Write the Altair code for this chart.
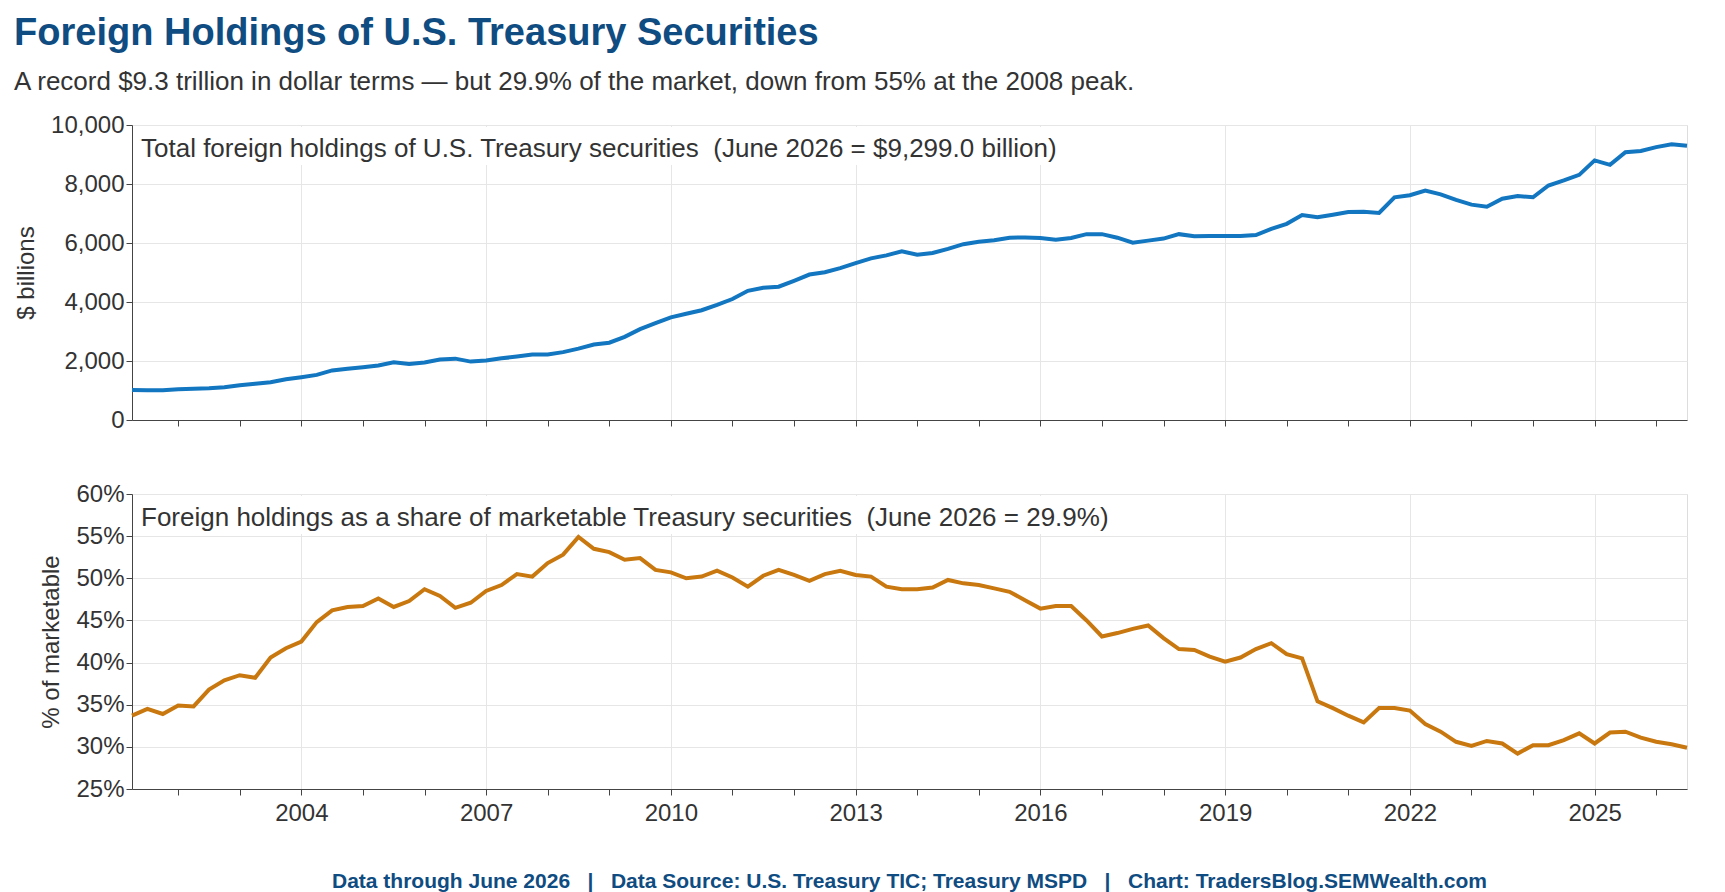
import altair as alt
import pandas as pd

holdings = [1020, 1005, 1010,
    1040, 1060, 1075, 1110,
    1180, 1230, 1280, 1380,
    1450, 1530, 1680, 1740,
    1790, 1850, 1960, 1900,
    1950, 2050, 2080, 1980,
    2020, 2090, 2150, 2220,
    2220, 2300, 2420, 2560,
    2620, 2820, 3080, 3280,
    3480, 3600, 3720, 3900,
    4100, 4380, 4480, 4520,
    4720, 4930, 5010, 5150,
    5320, 5480, 5580, 5720,
    5600, 5660, 5800, 5960,
    6040, 6090, 6180, 6190,
    6170, 6110, 6170, 6300,
    6300, 6180, 6010, 6080,
    6150, 6300, 6230, 6240,
    6240, 6240, 6270, 6480,
    6650, 6950, 6870, 6960,
    7050, 7060, 7020, 7550,
    7620, 7780, 7650, 7460,
    7300, 7230, 7500, 7590,
    7550, 7950, 8120, 8310,
    8800, 8650, 9080, 9120,
    9250, 9350, 9299]

share = [33.7, 34.5, 33.9,
    34.9, 34.8, 36.8, 37.9,
    38.5, 38.2, 40.6, 41.7,
    42.5, 44.8, 46.2, 46.6,
    46.7, 47.6, 46.6, 47.3,
    48.7, 47.9, 46.5, 47.1,
    48.5, 49.2, 50.5, 50.2,
    51.8, 52.8, 54.9, 53.5,
    53.1, 52.2, 52.4, 51.0,
    50.7, 50.0, 50.2, 50.9,
    50.1, 49.0, 50.3, 51.0,
    50.4, 49.7, 50.5, 50.9,
    50.4, 50.2, 49.0, 48.7,
    48.7, 48.9, 49.8, 49.4,
    49.2, 48.8, 48.4, 47.4,
    46.4, 46.7, 46.7, 45.0,
    43.1, 43.5, 44.0, 44.4,
    42.9, 41.6, 41.5, 40.7,
    40.1, 40.6, 41.6, 42.3,
    41.0, 40.5, 35.4, 34.6,
    33.7, 32.9, 34.6, 34.6,
    34.3, 32.7, 31.8, 30.6,
    30.1, 30.7, 30.4, 29.2,
    30.2, 30.2, 30.8, 31.6,
    30.4, 31.7, 31.8, 31.1,
    30.6, 30.3, 29.9]

start = 2001.25
df1 = pd.DataFrame({"t": [start + 0.25 * i for i in range(len(holdings))], "v": holdings})
df2 = pd.DataFrame({"t": [start + 0.25 * i for i in range(len(share))], "v": share})
one = pd.DataFrame({"k": [0]})

NB = "\u00a0"
FONT = "Liberation Sans"
W, H = 1555, 295
years = list(range(2002, 2027))
xdom = [start, 2026.5]

def xaxis(labels):
    return alt.Axis(values=years, format="d", labels=labels,
                    labelExpr="datum.value % 3 == 0 ? datum.value : ''",
                    gridOpacity=alt.ExprRef("datum.value % 3 == 0 ? 1 : 0"),
                    gridColor="#e6e6e6", title=None, tickColor="#444",
                    tickSize=6, domainColor="#444", labelFontSize=24,
                    labelColor="#333", labelFont=FONT, labelPadding=6)

def yaxis(vals, title, expr):
    return alt.Axis(values=vals, title=title, labelExpr=expr, gridColor="#e6e6e6",
                    domainColor="#444", tickColor="#444", tickSize=6,
                    labelFontSize=24, labelColor="#333", labelFont=FONT,
                    titleFontSize=24, titleFontWeight="normal", titleColor="#333",
                    titleFont=FONT, titlePadding=12)

def label(text, x2):
    bg = alt.Chart(one).mark_rect(color="white").encode(
        x=alt.value(2), x2=alt.value(x2), y=alt.value(2), y2=alt.value(40))
    txt = alt.Chart(one).mark_text(align="left", baseline="middle", fontSize=26, font=FONT, color="#333").encode(
        x=alt.value(9), y=alt.value(24), text=alt.value(text))
    return bg, txt

top_line = alt.Chart(df1).mark_line(color="#1276c0", strokeWidth=4).encode(
    x=alt.X("t:Q", scale=alt.Scale(domain=xdom, nice=False), axis=xaxis(False)),
    y=alt.Y("v:Q", scale=alt.Scale(domain=[0, 10000]),
            axis=yaxis(list(range(0, 10001, 2000)), "$ billions", "format(datum.value, ',')")),
)
tb, tt = label("Total foreign holdings of U.S. Treasury securities" + NB + NB + "(June 2026 = $9,299.0 billion)", 985)
top = alt.layer(top_line, tb, tt).properties(width=W, height=H)

bot_line = alt.Chart(df2).mark_line(color="#c8780f", strokeWidth=4).encode(
    x=alt.X("t:Q", scale=alt.Scale(domain=xdom, nice=False), axis=xaxis(True)),
    y=alt.Y("v:Q", scale=alt.Scale(domain=[25, 60]),
            axis=yaxis(list(range(25, 61, 5)), "% of marketable", "datum.value + '%'")),
)
bb, bt = label("Foreign holdings as a share of marketable Treasury securities" + NB + NB + "(June 2026 = 29.9%)", 1035)
sep = NB + NB + NB + "|" + NB + NB + NB
bot = alt.layer(bot_line, bb, bt).properties(
    width=W, height=H,
    title=alt.TitleParams(
        "Data through June 2026" + sep + "Data Source: U.S. Treasury TIC; Treasury MSPD" + sep + "Chart: TradersBlog.SEMWealth.com",
        orient="bottom", anchor="middle", fontSize=21, fontWeight="bold", color="#0f4c81",
        font=FONT, offset=46))

chart = alt.vconcat(top, bot, spacing=48).properties(
    title=alt.TitleParams(
        "Foreign Holdings of U.S. Treasury Securities",
        subtitle="A record $9.3 trillion in dollar terms — but 29.9% of the market, down from 55% at the 2008 peak.",
        anchor="start", frame="bounds", fontSize=38, fontWeight="bold", color="#0f4c81", font=FONT,
        subtitleFontSize=26, subtitleColor="#333", subtitleFont=FONT, subtitlePadding=16,
        offset=18)
).configure_view(stroke=None).configure(background="white", padding={"left": 6, "top": 6, "right": 5, "bottom": 5})

chart.save("out.html", embed_options={"renderer": "svg", "actions": False})
